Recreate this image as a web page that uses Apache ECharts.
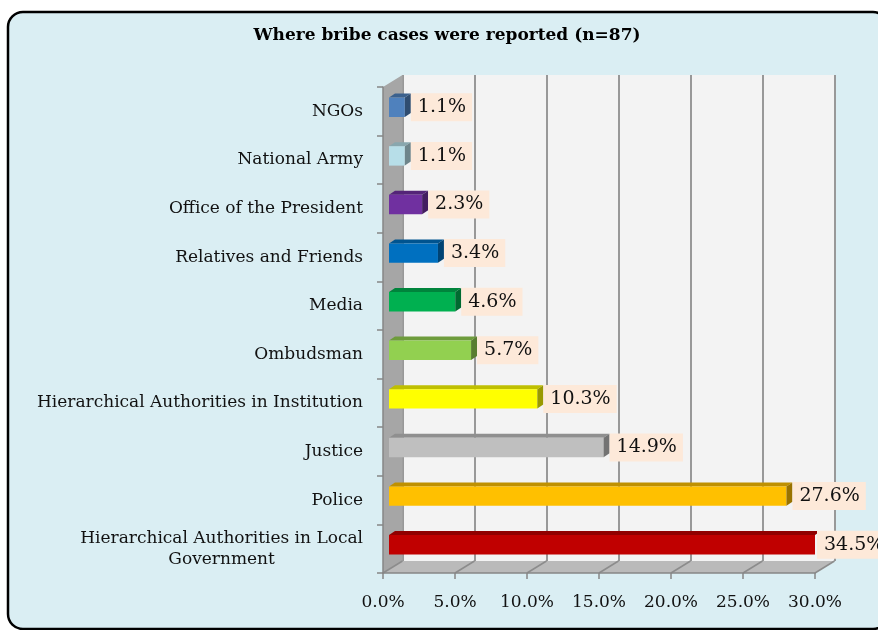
<!DOCTYPE html>
<html>
<head>
<meta charset="utf-8">
<script src="https://cdn.jsdelivr.net/npm/echarts@6/dist/echarts.min.js"></script>
<style>
  html, body { margin: 0; padding: 0; background: #ffffff; }
  #chart { width: 878px; height: 630px; }
</style>
</head>
<body>
<div id="chart"></div>
<script>
// Reporting channels, top to bottom
const categories = [
  'NGOs',
  'National Army',
  'Office of the President',
  'Relatives and Friends',
  'Media',
  'Ombudsman',
  'Hierarchical Authorities in Institution',
  'Justice',
  'Police',
  'Hierarchical Authorities in Local\nGovernment'
];
// Share of reported bribe cases (%)
const shares = [1.1, 1.1, 2.3, 3.4, 4.6, 5.7, 10.3, 14.9, 27.6, 34.5];
const barColors = ['#4f81bd', '#b7dee8', '#7030a0', '#0070c0', '#00b050',
                   '#92d050', '#ffff00', '#bfbfbf', '#ffc000', '#c00000'];
// Value axis ticks and their labels
const xTicks = [0, 5, 10, 15, 20, 25, 30];
const xTickLabels = ['0.0%', '5.0%', '10.0%', '15.0%', '20.0%', '25.0%', '30.0%'];

// 3-D frame layout: front plane, bar plane and back wall offsets
const FRONT = { left: 383, top: 87, width: 432, height: 486 };
const BAR_PLANE = [6, -4];
const WALL = [19.5, -12];
const BAR_DEPTH = [6, -4];
const SERIF = '"DejaVu Serif", "Liberation Serif", serif';
const xMin = xTicks[0], xMax = xTicks[xTicks.length - 1];
const xStep = xTicks[1] - xTicks[0];

function shade(hex, k) {
  const n = parseInt(hex.slice(1), 16);
  const r = Math.round(((n >> 16) & 255) * k);
  const g = Math.round(((n >> 8) & 255) * k);
  const b = Math.round((n & 255) * k);
  return 'rgb(' + r + ',' + g + ',' + b + ')';
}

const bottom = FRONT.top + FRONT.height;
const right = FRONT.left + FRONT.width;
const xPix = t => FRONT.left + (t - xMin) / (xMax - xMin) * FRONT.width;

const graphics = [
  { // chart area panel
    type: 'rect', z: -10,
    shape: { x: 8, y: 12, width: 880, height: 617, r: 15 },
    style: { fill: '#daeef3', stroke: '#000000', lineWidth: 2.5 }
  },
  { // floor
    type: 'polygon', z: 1,
    shape: { points: [[FRONT.left, bottom], [right, bottom],
                      [right + WALL[0], bottom + WALL[1]], [FRONT.left + WALL[0], bottom + WALL[1]]] },
    style: { fill: '#bababa' }
  },
  { // side wall
    type: 'polygon', z: 1,
    shape: { points: [[FRONT.left, FRONT.top], [FRONT.left + WALL[0], FRONT.top + WALL[1]],
                      [FRONT.left + WALL[0], bottom + WALL[1]], [FRONT.left, bottom]] },
    style: { fill: '#a6a6a6' }
  }
];
xTicks.forEach(t => {
  graphics.push({
    type: 'line', z: 1,
    shape: { x1: xPix(t) + WALL[0], y1: bottom + WALL[1], x2: xPix(t), y2: bottom },
    style: { stroke: '#8c8c8c', lineWidth: 1.5 }
  });
});

const chart = echarts.init(document.getElementById('chart'), null, { renderer: 'canvas' });

chart.setOption({
  animation: false,
  title: {
    text: 'Where bribe cases were reported (n=87)',
    left: 447, top: 27, textAlign: 'center', padding: 0,
    textStyle: { fontFamily: SERIF, fontWeight: 'bold', fontSize: 17, color: '#000000' }
  },
  graphic: graphics,
  grid: [
    { left: FRONT.left, top: FRONT.top, width: FRONT.width, height: FRONT.height },
    { left: FRONT.left + BAR_PLANE[0], top: FRONT.top + BAR_PLANE[1], width: FRONT.width, height: FRONT.height },
    { left: FRONT.left + WALL[0], top: FRONT.top + WALL[1], width: FRONT.width, height: FRONT.height,
      show: true, backgroundColor: '#f3f3f3', borderWidth: 0 }
  ],
  xAxis: [
    {
      gridIndex: 0, type: 'value', min: xMin, max: xMax, interval: xStep, z: 3,
      axisLine: { show: true, lineStyle: { color: '#868686', width: 1.5 } },
      axisTick: { show: true, length: 6, lineStyle: { color: '#868686', width: 1.5 } },
      splitLine: { show: false },
      axisLabel: {
        margin: 21, fontFamily: SERIF, fontSize: 17, color: '#111111',
        formatter: v => xTickLabels[xTicks.indexOf(v)]
      }
    },
    { gridIndex: 1, type: 'value', min: xMin, max: xMax, show: false },
    {
      gridIndex: 2, type: 'value', min: xMin, max: xMax, interval: xStep,
      axisLine: { show: false }, axisTick: { show: false }, axisLabel: { show: false },
      splitLine: { show: true, lineStyle: { color: '#989898', width: 2 } }
    }
  ],
  yAxis: [
    {
      gridIndex: 0, type: 'category', data: categories, inverse: true, z: 3,
      axisLine: { show: true, lineStyle: { color: '#868686', width: 1.5 } },
      axisTick: { show: true, length: 6, lineStyle: { color: '#868686', width: 1.5 } },
      axisLabel: {
        margin: 20, align: 'right',
        formatter: v => v.split('\n').map(s => '{c|' + s + '}').join('\n'),
        rich: { c: { align: 'center', fontFamily: SERIF, fontSize: 17, lineHeight: 21, color: '#111111' } }
      }
    },
    { gridIndex: 1, type: 'category', data: categories, inverse: true, show: false },
    { gridIndex: 2, type: 'category', data: categories, inverse: true, show: false }
  ],
  series: [{
    type: 'custom',
    xAxisIndex: 1, yAxisIndex: 1,
    z: 5, clip: false,
    data: shares.map((v, i) => [v, i]),
    encode: { x: 0, y: 1 },
    renderItem: function (params, api) {
      const v = api.value(0), i = api.value(1);
      const clipped = v > xMax;
      const start = api.coord([xMin, i]);
      const end = api.coord([Math.min(v, xMax), i]);
      const h = api.size([0, 1])[1] * 0.4;
      const [dx, dy] = BAR_DEPTH;
      const x0 = start[0];
      const x1 = end[0] - (clipped ? dx : 0);
      const yT = start[1] - h / 2, yB = start[1] + h / 2;
      const base = barColors[params.dataIndex];
      const children = [
        { type: 'polygon',
          shape: { points: [[x0, yT], [x0 + dx, yT + dy], [x1 + dx, yT + dy], [x1, yT]] },
          style: { fill: shade(base, 0.75) } },
        { type: 'rect', shape: { x: x0, y: yT, width: x1 - x0, height: h },
          style: { fill: base } }
      ];
      if (!clipped) {
        children.push({ type: 'polygon',
          shape: { points: [[x1, yT], [x1 + dx, yT + dy], [x1 + dx, yB + dy], [x1, yB]] },
          style: { fill: shade(base, 0.6) } });
      }
      children.push({
        type: 'text', x: x1 + (clipped ? 2 : dx), y: start[1],
        style: {
          text: v.toFixed(1) + '%', fontFamily: SERIF, fontSize: 19, fill: '#111111',
          align: 'left', verticalAlign: 'middle', lineHeight: 20,
          backgroundColor: '#fde9d9', padding: [4, 6, 4, 7]
        }
      });
      return { type: 'group', children: children };
    }
  }]
});
</script>
</body>
</html>
